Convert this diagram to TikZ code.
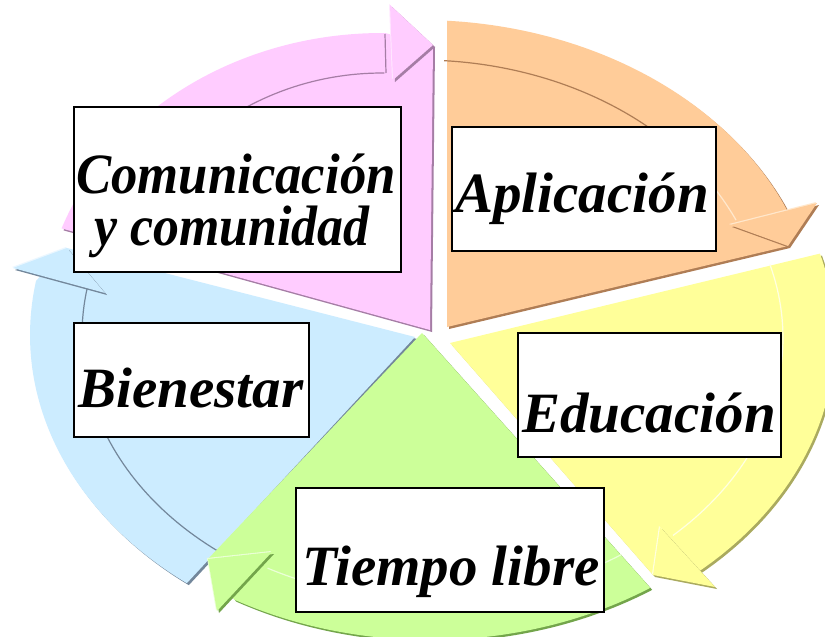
\documentclass[tikz,border=0pt]{standalone}
\usepackage{fontspec}
\setmainfont{Liberation Serif}
\definecolor{pinkF}{RGB}{255,204,255}
\definecolor{pinkS}{RGB}{165,125,165}
\definecolor{pinkL}{RGB}{255,232,255}
\definecolor{orF}{RGB}{255,204,153}
\definecolor{orS}{RGB}{175,125,85}
\definecolor{orL}{RGB}{255,232,205}
\definecolor{yeF}{RGB}{255,255,153}
\definecolor{yeS}{RGB}{170,170,95}
\definecolor{yeL}{RGB}{255,255,225}
\definecolor{grF}{RGB}{204,255,153}
\definecolor{grS}{RGB}{115,165,75}
\definecolor{grL}{RGB}{235,255,215}
\definecolor{blF}{RGB}{204,236,255}
\definecolor{blS}{RGB}{115,135,155}
\definecolor{blL}{RGB}{235,247,255}
% wedge bodies (image pixel coordinates, y downwards)
\newcommand\pinkbody[1]{\fill[#1] (430,330) -- plot[domain=160:89.5,samples=60] ({382+341*cos(\x)},{330-297*sin(\x)}) -- (433,45) -- cycle;}
\newcommand\pinkhead[1]{\fill[#1] (390,5) -- (433,45) -- (393,80) -- cycle;}
\newcommand\orbody[1]{\fill[#1] (447,327) -- plot[domain=86.1:23,samples=60] ({420+398*cos(\x)},{330-310*sin(\x)}) -- (788,246) -- cycle;}
\newcommand\orhead[1]{\fill[#1] (730,225) -- (817,203) -- (788,246) -- cycle;}
\newcommand\yebody[1]{\fill[#1] (450,343) -- plot[domain=15.8:-49,samples=60] ({437+398*cos(\x)},{338-310*sin(\x)}) -- (653,575) -- cycle;}
\newcommand\yehead[1]{\fill[#1] (660,527) -- (715,587) -- (653,575) -- cycle;}
\newcommand\grbody[1]{\fill[#1] (422,333) -- plot[domain=-56.4:-119.5,samples=60] ({430+398*cos(\x)},{328-312*sin(\x)}) -- (208,559) -- cycle;}
\newcommand\grhead[1]{\fill[#1] (272,552) -- (217,611) -- (208,559) -- cycle;}
\newcommand\blbody[1]{\fill[#1] (415,337) -- plot[domain=-127.3:-190,samples=60] ({428+398*cos(\x)},{335-312*sin(\x)}) -- (67,248) -- cycle;}
\newcommand\blhead[1]{\fill[#1] (105,293) -- (13,268) -- (67,248) -- cycle;}
\begin{document}
\begin{tikzpicture}[x=1pt,y=-1pt,
  box/.style={draw=black, line width=1.6pt, fill=white, inner sep=0pt, rectangle},
  lbl/.style={inner sep=0pt, anchor=base, font=\fontsize{57}{57}\selectfont\bfseries\itshape},
  shd/.style={shift={(2,2)}},
  hil/.style={shift={(-1,-1)}},
  inl/.style={line width=1.2pt}]
\useasboundingbox (0,0) rectangle (825,637);
\fill[white] (0,0) rectangle (825,637);
% blue
\blbody{blS,shd}
\blbody{blF}
\draw[inl,blS] plot[domain=-127.3:-190,samples=50] ({428+346*cos(\x)},{335-272*sin(\x)});
\blhead{blL,hil}
\blhead{blS,shd}
\blhead{blF}
% green
\grbody{grS,shd}
\grbody{grF}
\draw[inl,grL] plot[domain=-56.4:-118,samples=50] ({430+346*cos(\x)},{328-272*sin(\x)});
\grhead{grL,hil}
\grhead{grS,shd}
\grhead{grF}
% yellow
\yebody{yeS,shd}
\yebody{yeF}
\draw[inl,yeL] plot[domain=15.8:-47,samples=50] ({437+346*cos(\x)},{338-270*sin(\x)});
\yehead{yeL,hil}
\yehead{yeS,shd}
\yehead{yeF}
% orange
\orbody{orS,shd}
\orbody{orF}
\draw[inl,orS] plot[domain=86:48,samples=40] ({420+346*cos(\x)},{330-270*sin(\x)});
\draw[inl,orL] plot[domain=48:24,samples=30] ({420+346*cos(\x)},{330-270*sin(\x)});
\orhead{orL,hil}
\orhead{orS,shd}
\orhead{orF}
% pink
\pinkbody{pinkS,shd}
\pinkbody{pinkF}
\draw[inl,pinkS] plot[domain=158:89.5,samples=50] ({382+272*cos(\x)},{330-257*sin(\x)});
\draw[inl,pinkS] (385,34) -- (386,73);
\pinkhead{pinkL,hil}
\pinkhead{pinkS,shd}
\pinkhead{pinkF}
% boxes
\node[box, minimum width=327pt, minimum height=165pt] (boxC) at (237.5,189.5) {};
\node[box, minimum width=264pt, minimum height=124pt] (boxA) at (584,189) {};
\node[box, minimum width=235pt, minimum height=114pt] (boxB) at (191.5,380) {};
\node[box, minimum width=263pt, minimum height=124pt] (boxE) at (649.5,395) {};
\node[box, minimum width=308pt, minimum height=124pt] (boxT) at (450,550) {};
% labels
\node[lbl] (tC1) at (236,193) {\scalebox{0.925}[1]{Comunicación}};
\node[lbl] (tC2) at (232,245) {\scalebox{0.91}[1]{y comunidad}};
\node[lbl] (tA) at (582,212) {Aplicación};
\node[lbl] (tB) at (191,407) {Bienestar};
\node[lbl] (tE) at (649,432) {Educación};
\node[lbl] (tT) at (451,585) {Tiempo libre};
\end{tikzpicture}
\end{document}
